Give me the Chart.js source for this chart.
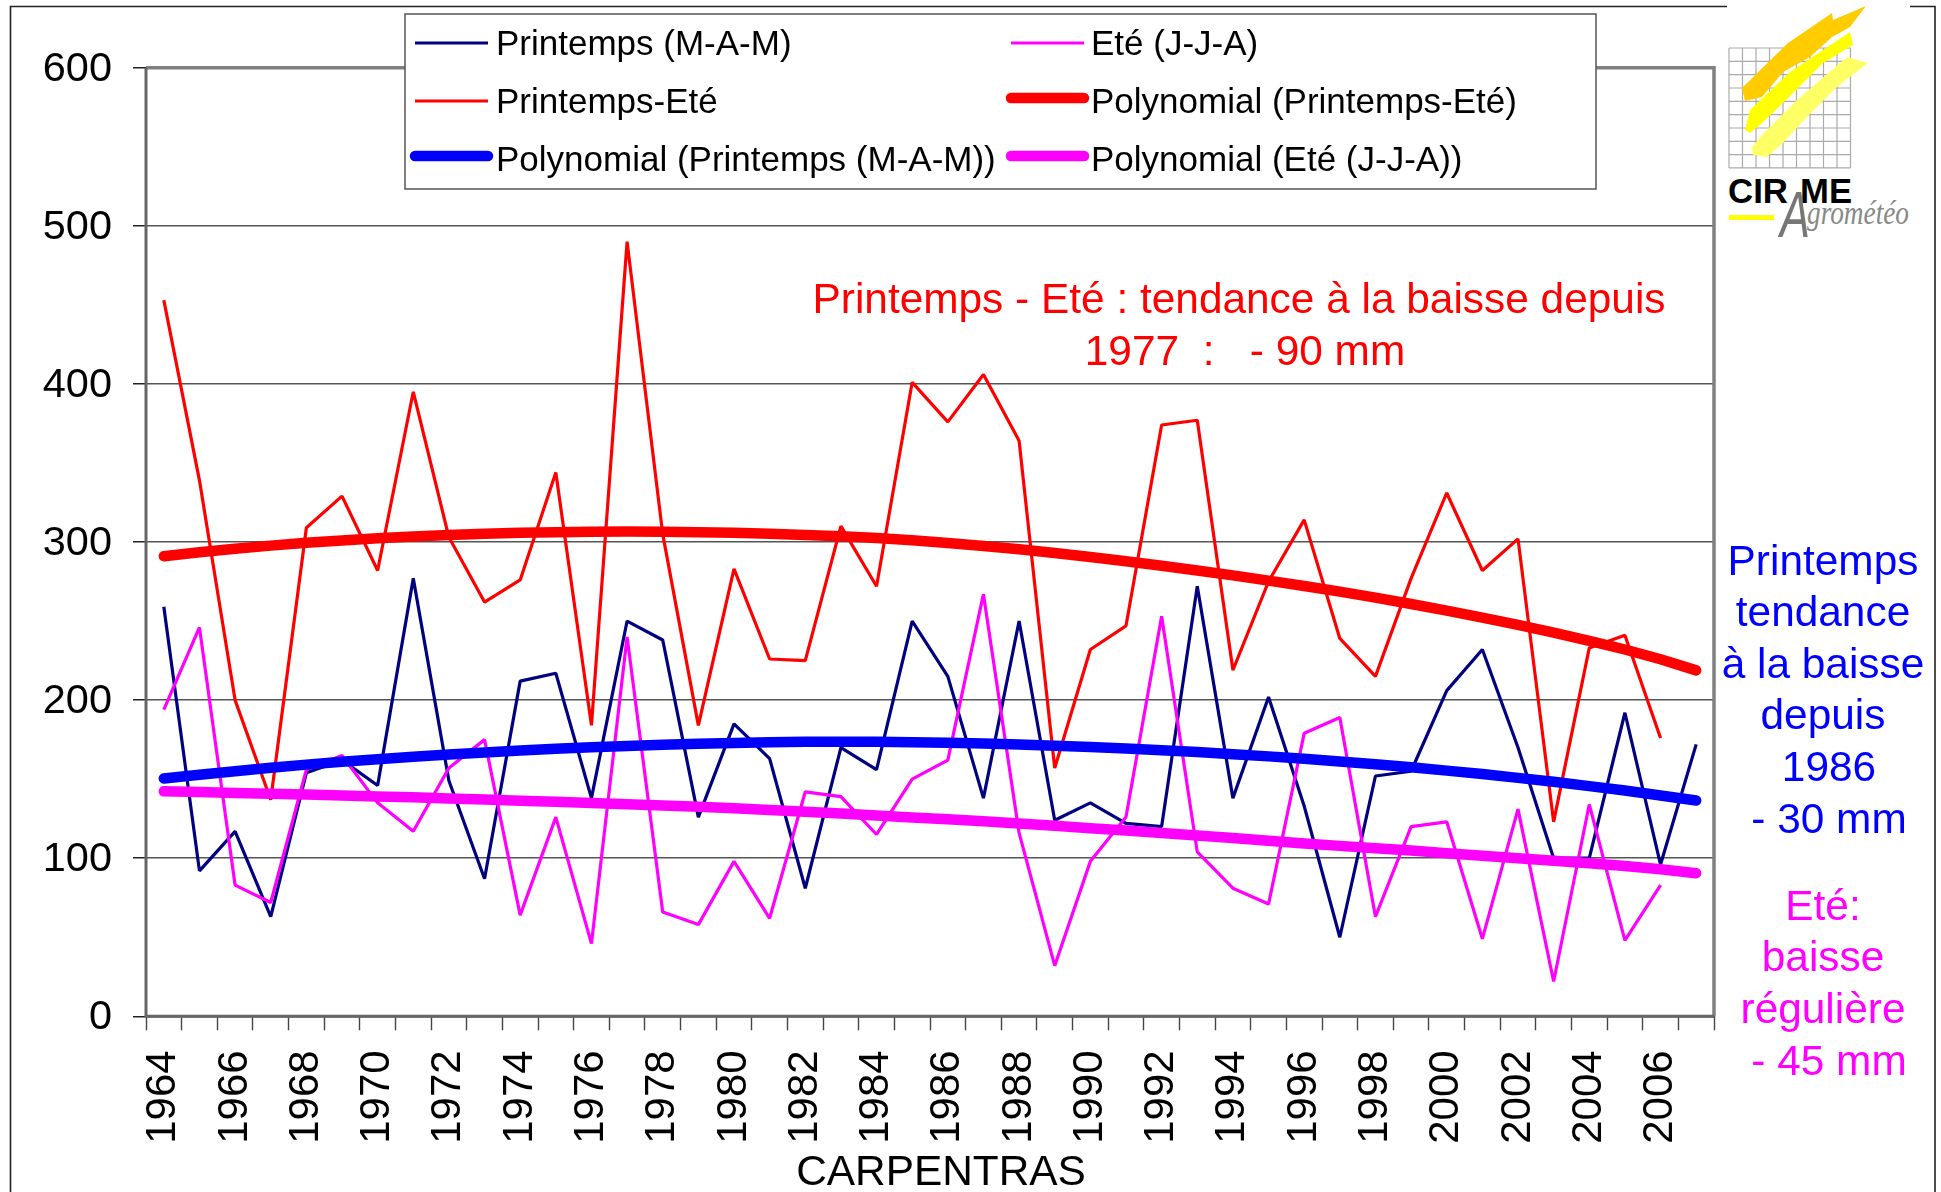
<!DOCTYPE html>
<html>
<head>
<meta charset="utf-8">
<title>Carpentras</title>
<script src="https://cdn.jsdelivr.net/npm/chart.js@4"></script>
<style>
  html, body { margin: 0; padding: 0; background: #fff; }
  #wrap { position: relative; width: 1941px; height: 1192px; overflow: hidden; }
  #logo { position: absolute; left: 1727px; top: 0; }
</style>
</head>
<body>
<div id="wrap">
  <canvas id="myChart" width="1941" height="1192"></canvas>
  <svg id="logo" width="183" height="245" viewBox="1727 0 183 245">
    <rect x="1727" y="0" width="183" height="245" fill="#fff"/>
    <g id="logoGrid" stroke="#aaa" stroke-width="1.2"></g>
    <polygon fill="#ffcc00" points="1742,88 1788,43 1832,13 1833,20 1866,6 1850,27 1832,37 1810,57 1783,72 1762,97 1745,101"/>
    <polygon fill="#ffff00" points="1750,110 1790,72 1850,32 1853,45 1823,63 1783,103 1760,125 1750,133 1745,130"/>
    <polygon fill="#ffff66" points="1762,135 1797,100 1847,57 1868,63 1837,87 1807,117 1783,143 1767,157 1753,155 1752,147"/>
    <text x="1728" y="203" font-family="Liberation Sans" font-weight="700" font-size="35" fill="#000" textLength="60" lengthAdjust="spacingAndGlyphs">CIR</text>
    <text x="1800" y="203" font-family="Liberation Sans" font-weight="700" font-size="35" fill="#000" textLength="52" lengthAdjust="spacingAndGlyphs">ME</text>
    <rect x="1729" y="215" width="45" height="5" fill="#ffff00"/>
    <text x="1780" y="237" font-family="Liberation Sans" font-style="italic" font-size="64" fill="#777" textLength="30" lengthAdjust="spacingAndGlyphs">A</text>
    <text x="1807" y="224" font-family="Liberation Serif" font-style="italic" font-size="33" fill="#888" textLength="102" lengthAdjust="spacingAndGlyphs">grométéo</text>
  </svg>
</div>
<script>
const years = [1964,1965,1966,1967,1968,1969,1970,1971,1972,1973,1974,1975,1976,1977,1978,1979,1980,1981,1982,1983,1984,1985,
  1986,1987,1988,1989,1990,1991,1992,1993,1994,1995,1996,1997,1998,1999,2000,2001,2002,2003,2004,2005,2006,2007];

const printemps = [259,92,117,63,154,162,146,277,149,87,212,217,138,250,238,126,185,163,81,170,156,250,
  215,138,250,124,135,122,120,272,138,202,133,50,152,155,206,232,170,100,100,192,96,172];
const ete = [194,246,83,72,156,165,135,117,157,175,64,126,46,240,66,58,98,62,142,139,115,150,
  162,267,116,32,98,126,253,104,81,71,179,189,63,120,123,49,131,22,134,48,83,null];
const printempsEte = [453,339,200,137,309,329,282,395,303,262,276,344,184,490,305,184,283,226,225,310,272,401,
  376,406,364,157,232,247,374,377,219,275,314,239,215,277,331,282,302,123,233,241,176,null];

const polyPrintemps = [150.4,152.8,155,157.2,159.2,161,162.6,164.2,165.6,166.9,168.1,169.2,170.2,171,171.8,172.4,172.9,173.3,173.6,173.7,173.6,173.4,
  173,172.5,171.9,171.2,170.4,169.4,168.3,167.1,165.8,164.4,162.9,161.2,159.4,157.5,155.4,153.2,150.8,148.3,145.6,142.8,139.7,136.5];
const polyEte = [142.3,141.8,141.3,140.8,140.3,139.7,139.1,138.5,137.8,137.1,136.4,135.7,134.9,134.1,133.3,132.5,131.6,130.5,129.4,128.2,127,125.8,
  124.6,123.3,122,120.5,119,117.5,116,114.4,112.8,111,109.3,107.8,106.3,104.8,103.2,101.6,100,98.4,96.8,95,93,90.5];
const polyPrintempsEte = [291,293.5,295.7,297.7,299.5,301,302.4,303.5,304.4,305.2,305.8,306.2,306.5,306.6,306.5,306.2,305.8,305.2,304.5,303.7,302.6,301.1,
  299.4,297.5,295.4,293,290.5,287.8,285,282,278.9,275.6,272.2,268.6,264.8,260.8,256.6,252.2,247.6,242.7,237.5,232,225.8,218.8];

const yTicks = [0,100,200,300,400,500,600];

// legend reads left to right, 2 columns, 3 rows, same order as the datasets
const datasets = [
  { label: 'Printemps (M-A-M)', data: printemps, borderColor: '#000080', borderWidth: 3.2, order: 6 },
  { label: 'Eté (J-J-A)', data: ete, borderColor: '#ff00ff', borderWidth: 3.2, order: 5 },
  { label: 'Printemps-Eté', data: printempsEte, borderColor: '#ff0000', borderWidth: 3.2, order: 4 },
  { label: 'Polynomial (Printemps-Eté)', data: polyPrintempsEte, borderColor: '#ff0000', borderWidth: 10.5, borderCapStyle: 'round', order: 3 },
  { label: 'Polynomial (Printemps (M-A-M))', data: polyPrintemps, borderColor: '#0000ff', borderWidth: 10.5, borderCapStyle: 'round', order: 2 },
  { label: 'Polynomial (Eté (J-J-A))', data: polyEte, borderColor: '#ff00ff', borderWidth: 10.5, borderCapStyle: 'round', order: 1 }
];

// free text around the plot
const notes = [
  { text: 'Printemps - Eté : tendance à la baisse depuis', x: 1239, y: 313, color: '#ff0000' },
  { text: '1977  :   - 90 mm', x: 1245, y: 365, color: '#ff0000' },
  { text: 'Printemps', x: 1823, y: 575, color: '#0000ff' },
  { text: 'tendance', x: 1823, y: 626, color: '#0000ff' },
  { text: 'à la baisse', x: 1823, y: 678, color: '#0000ff' },
  { text: 'depuis', x: 1823, y: 729, color: '#0000ff' },
  { text: '1986', x: 1829, y: 781, color: '#0000ff' },
  { text: '- 30 mm', x: 1829, y: 833, color: '#0000ff' },
  { text: 'Eté:', x: 1823, y: 920, color: '#ff00ff' },
  { text: 'baisse', x: 1823, y: 971, color: '#ff00ff' },
  { text: 'régulière', x: 1823, y: 1023, color: '#ff00ff' },
  { text: '- 45 mm', x: 1829, y: 1075, color: '#ff00ff' },
  { text: 'CARPENTRAS', x: 941, y: 1185, color: '#000' }
];

const FONT = '"Liberation Sans", Arial, sans-serif';

// outer frame + plot border, under the lines
const frame = {
  id: 'frame',
  beforeDraw(chart) {
    const { ctx } = chart;
    ctx.save();
    ctx.strokeStyle = '#222';
    ctx.lineWidth = 1.6;
    ctx.beginPath();
    ctx.moveTo(10.5, 1192);
    ctx.lineTo(10.5, 6.5);
    ctx.lineTo(1935, 6.5);
    ctx.lineTo(1935, 1192);
    ctx.stroke();
    ctx.restore();
  },
  beforeDatasetsDraw(chart) {
    const { ctx, chartArea: { top, bottom, left, right } } = chart;
    ctx.save();
    ctx.strokeStyle = '#808080';
    ctx.lineWidth = 3.5;
    ctx.beginPath();
    ctx.moveTo(left, top);
    ctx.lineTo(right, top);
    ctx.lineTo(right, bottom);
    ctx.stroke();
    ctx.strokeStyle = '#666';
    ctx.lineWidth = 3;
    ctx.beginPath();
    ctx.moveTo(left, top);
    ctx.lineTo(left, bottom);
    ctx.lineTo(right, bottom);
    ctx.stroke();
    ctx.restore();
  }
};

const legendBox = {
  id: 'legendBox',
  afterDraw(chart) {
    const { ctx } = chart;
    const rows = [43, 101, 159];
    const cols = [{ x: 415, text: 496 }, { x: 1011, text: 1091 }];
    ctx.save();
    ctx.fillStyle = '#fff';
    ctx.fillRect(405, 14, 1191, 175);
    ctx.strokeStyle = '#555';
    ctx.lineWidth = 1.5;
    ctx.strokeRect(405, 14, 1191, 175);
    ctx.font = '35px ' + FONT;
    ctx.textBaseline = 'alphabetic';
    ctx.textAlign = 'left';
    chart.data.datasets.forEach((ds, i) => {
      const col = cols[i % 2];
      const y = rows[Math.floor(i / 2)];
      const thick = ds.borderWidth > 5;
      ctx.strokeStyle = ds.borderColor;
      ctx.lineWidth = ds.borderWidth;
      ctx.lineCap = ds.borderCapStyle || 'butt';
      ctx.beginPath();
      ctx.moveTo(col.x, thick ? y - 3 : y);
      ctx.lineTo(col.x + 73, thick ? y - 3 : y);
      ctx.stroke();
      ctx.fillStyle = '#000';
      ctx.fillText(ds.label, col.text, y + 12);
    });
    ctx.restore();
  }
};

const freeText = {
  id: 'freeText',
  afterDraw(chart) {
    const { ctx } = chart;
    ctx.save();
    ctx.font = '42.4px ' + FONT;
    ctx.textAlign = 'center';
    ctx.textBaseline = 'alphabetic';
    notes.forEach(n => {
      ctx.fillStyle = n.color;
      ctx.fillText(n.text, n.x, n.y);
    });
    ctx.restore();
  }
};

// logo grid
const grid = document.getElementById('logoGrid');
for (let i = 0; i < 10; i++) {
  const x = 1729 + i * 13.5, y = 48 + i * 13.33;
  grid.innerHTML += `<line x1="${x}" y1="48" x2="${x}" y2="168"/><line x1="1729" y1="${y}" x2="1850.5" y2="${y}"/>`;
}

const config = {
  type: 'line',
  data: {
    labels: years,
    datasets: datasets.map(d => ({ ...d, pointRadius: 0, tension: 0, fill: false, spanGaps: false, borderJoinStyle: d.borderCapStyle ? 'round' : 'bevel' }))
  },
  options: {
    responsive: false,
    animation: false,
    devicePixelRatio: 1,
    layout: { padding: { left: 0, top: 67.7, right: 227, bottom: 0 } },
    plugins: { legend: { display: false }, tooltip: { enabled: false }, title: { display: false } },
    scales: {
      x: {
        type: 'category',
        offset: true,
        afterFit(scale) { scale.height = 175.7; },
        border: { display: false },
        grid: { offset: true, drawOnChartArea: false, drawTicks: true, tickLength: 14, tickColor: '#444', tickWidth: 1.4 },
        ticks: {
          autoSkip: false,
          minRotation: 90,
          maxRotation: 90,
          padding: 20,
          color: '#000',
          font: { family: FONT, size: 42 },
          callback(value, index) { return index % 2 === 0 ? this.getLabelForValue(value) : ''; }
        }
      },
      y: {
        min: 0,
        max: 600,
        afterFit(scale) { scale.width = 146; },
        afterBuildTicks(scale) { scale.ticks = yTicks.map(v => ({ value: v })); },
        border: { display: false },
        grid: { color: '#555', lineWidth: 1.5, tickLength: 13, tickColor: '#222', tickWidth: 1.5 },
        ticks: { padding: 21, labelOffset: 1.5, color: '#000', font: { family: FONT, size: 41.5 } }
      }
    }
  },
  plugins: [frame, legendBox, freeText]
};

const myChart = new Chart(document.getElementById('myChart'), config);
</script>
</body>
</html>
